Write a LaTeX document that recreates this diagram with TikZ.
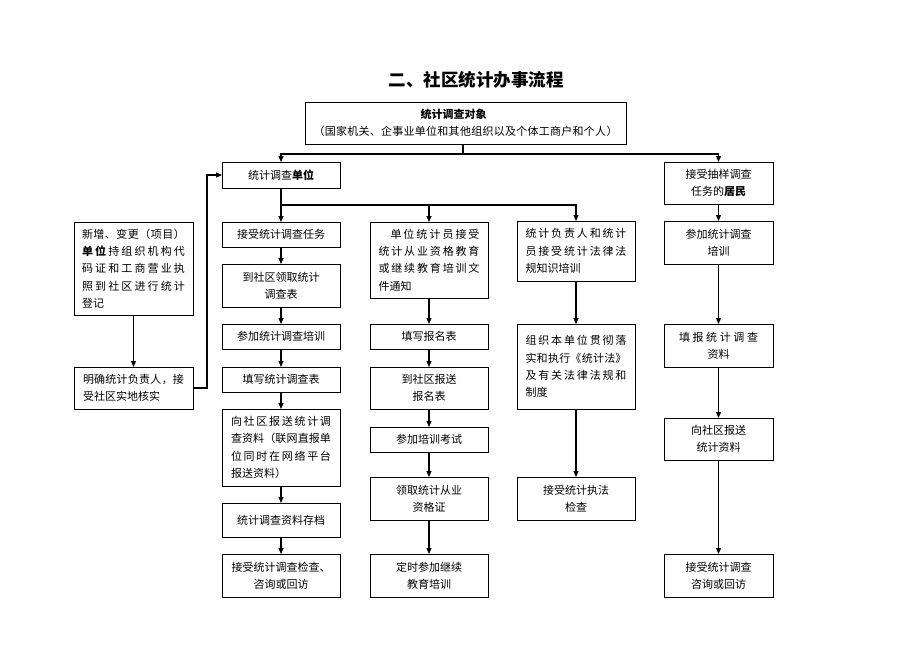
\documentclass[tikz,border=0pt]{standalone}
\usepackage{fontspec}
\setmainfont{Noto Sans CJK SC}
\usetikzlibrary{arrows.meta}
\def\jlinex#1{\ifx\relax#1\else#1\hfil\expandafter\jlinex\fi}
\newcommand\jline[2]{\hbox to #1pt{\jlinex#2\relax\unskip}}
\begin{document}
\begin{tikzpicture}[x=1pt,y=-1pt,
  box/.style={draw, line width=0.8pt, anchor=north west, inner sep=0pt, outer sep=0pt,
    align=center, font=\fontsize{11}{17.3}\selectfont},
  ln/.style={line width=1.1pt},
  arr/.style={line width=1.1pt, -{Triangle[length=6pt,width=5pt]}}]
\fill[white] (0,0) rectangle (920,651);
\useasboundingbox (0,0) rectangle (920,651);

\node[font=\fontsize{17.5}{20}\selectfont\bfseries] (title) at (476,80) {二、社区统计办事流程};

\node[box,minimum width=321pt,minimum height=42pt] (top) at (305,102)
  {\hbox to 304pt{\hskip0pt plus1fil\bfseries 统计调查对象\hskip24pt plus1fil}\\
   \jline{304}{（国家机关、企事业单位和其他组织以及个体工商户和个人）}};

\node[box,minimum width=118pt,minimum height=26pt] (unit) at (222,162) {统计调查{\bfseries 单位}};
\node[box,minimum width=109pt,minimum height=42pt] (res) at (664,162) {接受抽样调查\\任务的{\bfseries 居民}};

% column 1
\node[box,minimum width=118pt,minimum height=25pt] (c1a) at (222,222) {接受统计调查任务};
\node[box,minimum width=118pt,minimum height=43pt] (c1b) at (222,264) {到社区领取统计\\调查表};
\node[box,minimum width=118pt,minimum height=25pt] (c1c) at (222,324) {参加统计调查培训};
\node[box,minimum width=118pt,minimum height=25pt] (c1d) at (222,367) {填写统计调查表};
\node[box,minimum width=118pt,minimum height=77pt,align=left] (c1e) at (222,409)
  {\jline{100}{向社区报送统计调}\\\jline{100}{查资料（联网直报单}\\\jline{100}{位同时在网络平台}\\报送资料）};
\node[box,minimum width=118pt,minimum height=34pt] (c1f) at (222,503) {统计调查资料存档};
\node[box,minimum width=118pt,minimum height=43pt] (c1g) at (222,554) {接受统计调查检查、\\咨询或回访};

% column 2
\node[box,minimum width=118pt,minimum height=76pt,align=left] (c2a) at (370,222)
  {\hspace*{12pt}\jline{89}{单位统计员接受}\\\jline{101}{统计从业资格教育}\\\jline{101}{或继续教育培训文}\\件通知};
\node[box,minimum width=118pt,minimum height=25pt] (c2b) at (370,324) {填写报名表};
\node[box,minimum width=118pt,minimum height=42pt] (c2c) at (370,367) {到社区报送\\报名表};
\node[box,minimum width=118pt,minimum height=25pt] (c2d) at (370,427) {参加培训考试};
\node[box,minimum width=118pt,minimum height=43pt] (c2e) at (370,477) {领取统计从业\\资格证};
\node[box,minimum width=118pt,minimum height=43pt] (c2f) at (370,554) {定时参加继续\\教育培训};

% column 3
\node[box,minimum width=118pt,minimum height=60pt,align=left] (c3a) at (517,221)
  {\jline{101}{统计负责人和统计}\\\jline{101}{员接受统计法律法}\\规知识培训};
\node[box,minimum width=118pt,minimum height=85pt,align=left] (c3b) at (517,324)
  {\jline{101}{组织本单位贯彻落}\\\jline{101}{实和执行《统计法》}\\\jline{101}{及有关法律法规和}\\制度};
\node[box,minimum width=118pt,minimum height=43pt] (c3c) at (517,477) {接受统计执法\\检查};

% column 4
\node[box,minimum width=109pt,minimum height=43pt] (c4a) at (664,221) {参加统计调查\\培训};
\node[box,minimum width=109pt,minimum height=43pt] (c4b) at (664,324) {\jline{79}{填报统计调查}\\资料};
\node[box,minimum width=109pt,minimum height=42pt] (c4c) at (664,418) {向社区报送\\统计资料};
\node[box,minimum width=109pt,minimum height=43pt] (c4d) at (664,554) {接受统计调查\\咨询或回访};

% left column
\node[box,minimum width=119pt,minimum height=93pt,align=left] (l1) at (74,222)
  {\jline{103}{新增、变更（项目）}\\\jline{103}{{{\bfseries 单}}{{\bfseries 位}}持组织机构代}\\\jline{103}{码证和工商营业执}\\\jline{103}{照到社区进行统计}\\登记};
\node[box,minimum width=119pt,minimum height=42pt,align=left] (l2) at (74,367)
  {\jline{101}{明确统计负责人，接}\\受社区实地核实};

% connectors
\coordinate (j1) at (463,154);
\draw[ln] (top.south -| j1) -- (j1);
\draw[arr] (j1) -| (unit.north);
\draw[arr] (j1) -| (res.north);

\coordinate (j2) at (281,205);
\draw[ln] (unit.south) -- (j2);
\draw[arr] (j2) -- (c1a.north);
\draw[arr] (j2) -| (c2a.north);
\draw[arr] (j2) -| (c3a.north);

\foreach \a/\b in {c1a/c1b,c1b/c1c,c1c/c1d,c1d/c1e,c1e/c1f,c1f/c1g,
                   c2a/c2b,c2b/c2c,c2c/c2d,c2d/c2e,c2e/c2f,
                   c3a/c3b,c3b/c3c,
                   res/c4a,c4a/c4b,c4b/c4c,c4c/c4d,
                   l1/l2}
  \draw[arr] (\a) -- (\b);

\draw[arr] (l2.east) -- ++(14,0) |- (unit.west);
\end{tikzpicture}
\end{document}
